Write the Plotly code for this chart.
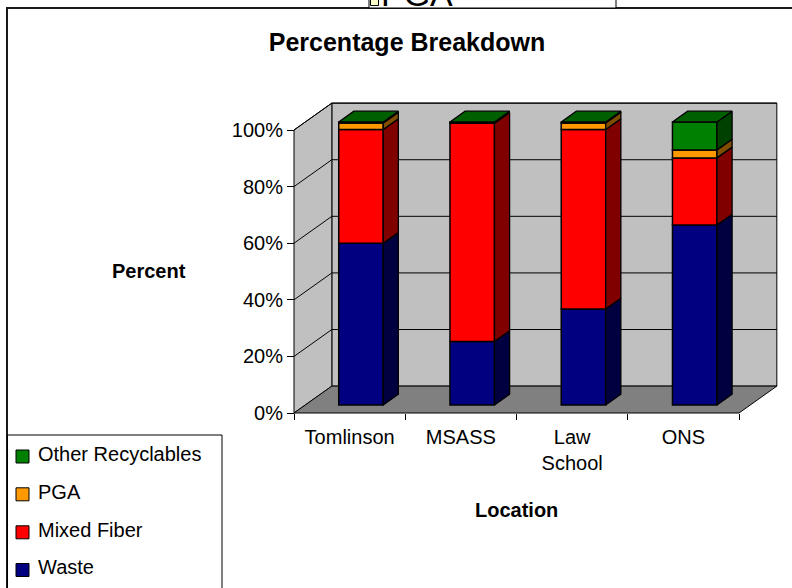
import plotly.graph_objects as go

# ---------------- data ----------------
categories = ["Tomlinson", "MSASS", "Law School", "ONS"]
series_names = ["Waste", "Mixed Fiber", "PGA", "Other Recyclables"]
waste = [57.1, 22.4, 33.9, 63.6]
mixed_fiber = [40.2, 77.1, 63.4, 23.7]
pga = [2.3, 0.3, 2.3, 2.8]
other_recyclables = [0.4, 0.2, 0.4, 9.9]
y_tick_values = [0, 20, 40, 60, 80, 100]
y_tick_labels = ["0%", "20%", "40%", "60%", "80%", "100%"]
chart_title = "Percentage Breakdown"
x_axis_title = "Location"
y_axis_title = "Percent"

series_values = [waste, mixed_fiber, pga, other_recyclables]

# ---------------- style ----------------
FONT = "Liberation Sans, Arial, sans-serif"
FRONT = ["#000080", "#FF0000", "#FF9900", "#008000"]
SIDE = ["#000040", "#800000", "#804D00", "#004000"]
TOP = ["#000060", "#C00000", "#C07300", "#006000"]
WALL = "#C0C0C0"
FLOOR = "#808080"

W, H = 792, 588
M_L, M_R, M_T, M_B = 290, 12, 100, 172
PLOT_W = W - M_L - M_R
PLOT_H = H - M_T - M_B
ORIGIN_PX = (294, 413)       # pixel of (first category edge, 0%)
X_UNIT_PX = 111.25           # pixels per category
Y_UNIT_PX = 2.83             # pixels per percent
DEPTH_X = 0.34               # floor depth, in category units
DEPTH_Y = 9.5                # floor depth, in percent units
BAR_W = 0.4
BAR_FRONT = 0.3              # bar front plane as a fraction of floor depth
BAR_BACK = 0.7

x_lo = -(ORIGIN_PX[0] - M_L) / X_UNIT_PX
x_range = [x_lo, x_lo + PLOT_W / X_UNIT_PX]
y_lo = -((H - M_B) - ORIGIN_PX[1]) / Y_UNIT_PX
y_range = [y_lo, y_lo + PLOT_H / Y_UNIT_PX]


def paper_x(px):
    return (px - M_L) / PLOT_W


def paper_y(py):
    return (H - M_B - py) / PLOT_H


def path(points, close=True):
    s = "M " + " L ".join(f"{x:.4f},{y:.4f}" for x, y in points)
    return s + (" Z" if close else "")


n = len(categories)
top_val = y_tick_values[-1]
shapes = []

# walls and floor
shapes.append(dict(type="path", xref="x", yref="y", layer="below",
                   path=path([(DEPTH_X, DEPTH_Y), (n + DEPTH_X, DEPTH_Y),
                              (n + DEPTH_X, top_val + DEPTH_Y), (DEPTH_X, top_val + DEPTH_Y)]),
                   fillcolor=WALL, line=dict(color="#000000", width=1)))
shapes.append(dict(type="path", xref="x", yref="y", layer="below",
                   path=path([(0, 0), (DEPTH_X, DEPTH_Y), (DEPTH_X, top_val + DEPTH_Y), (0, top_val)]),
                   fillcolor=WALL, line=dict(color="#000000", width=1)))
shapes.append(dict(type="path", xref="x", yref="y", layer="below",
                   path=path([(0, 0), (n, 0), (n + DEPTH_X, DEPTH_Y), (DEPTH_X, DEPTH_Y)]),
                   fillcolor=FLOOR, line=dict(color="#000000", width=1)))
# gridlines on the side wall and back wall
for v in y_tick_values[1:]:
    shapes.append(dict(type="path", xref="x", yref="y", layer="below",
                       path=path([(0, v), (DEPTH_X, v + DEPTH_Y), (n + DEPTH_X, v + DEPTH_Y)], close=False),
                       line=dict(color="#000000", width=1)))

fig = go.Figure()

# front faces of the stacked columns
fx0 = BAR_FRONT * DEPTH_X
fy0 = BAR_FRONT * DEPTH_Y
ddx = (BAR_BACK - BAR_FRONT) * DEPTH_X
ddy = (BAR_BACK - BAR_FRONT) * DEPTH_Y
centers = [i + 0.5 + fx0 for i in range(n)]

cum = [0.0] * n
bases_all = []
for j, vals in enumerate(series_values):
    bases = [c + fy0 for c in cum]
    bases_all.append(bases)
    fig.add_trace(go.Bar(
        x=centers, y=vals, base=bases, width=BAR_W, name=series_names[j],
        marker=dict(color=FRONT[j], line=dict(color="#000000", width=1.5)),
        showlegend=False, hoverinfo="skip"))
    cum = [c + v for c, v in zip(cum, vals)]

# side faces
for j, vals in enumerate(series_values):
    xs, ys = [], []
    for i in range(n):
        if vals[i] <= 0:
            continue
        xr = centers[i] + BAR_W / 2
        b = bases_all[j][i]
        t = b + vals[i]
        xs += [xr, xr + ddx, xr + ddx, xr, xr, None]
        ys += [b, b + ddy, t + ddy, t, b, None]
    fig.add_trace(go.Scatter(x=xs, y=ys, mode="lines", fill="toself",
                             fillcolor=SIDE[j], line=dict(color="#000000", width=1.3),
                             showlegend=False, hoverinfo="skip"))

# top faces (colour of the highest non-empty series)
for i in range(n):
    j_top = max(j for j in range(len(series_values)) if series_values[j][i] > 0)
    t = cum[i] + fy0
    xl = centers[i] - BAR_W / 2
    xr = centers[i] + BAR_W / 2
    fig.add_trace(go.Scatter(x=[xl, xr, xr + ddx, xl + ddx, xl],
                             y=[t, t, t + ddy, t + ddy, t],
                             mode="lines", fill="toself", fillcolor=TOP[j_top],
                             line=dict(color="#000000", width=1.3),
                             showlegend=False, hoverinfo="skip"))

# chart-area frame
shapes.append(dict(type="rect", xref="paper", yref="paper", layer="above",
                   x0=paper_x(7), x1=paper_x(W + 20), y0=paper_y(H + 20), y1=paper_y(8),
                   line=dict(color="#1a1a1a", width=2), fillcolor="rgba(0,0,0,0)"))

annotations = []

# legend box in the lower-left corner
shapes.append(dict(type="rect", xref="paper", yref="paper", layer="above",
                   x0=paper_x(7.5), x1=paper_x(222), y0=paper_y(H + 20), y1=paper_y(435),
                   line=dict(color="#000000", width=1), fillcolor="#FFFFFF"))
legend_rows = [456.5, 494.3, 532.3, 570.0]
for row, j in zip(legend_rows, reversed(range(len(series_names)))):
    shapes.append(dict(type="rect", xref="paper", yref="paper", layer="above",
                       x0=paper_x(16), x1=paper_x(29), y0=paper_y(row + 6.5), y1=paper_y(row - 6.5),
                       line=dict(color="#000000", width=1), fillcolor=FRONT[j]))
    annotations.append(dict(xref="paper", yref="paper", x=paper_x(36), y=paper_y(row - 2.7),
                            xanchor="left", yanchor="middle", showarrow=False,
                            text=series_names[j], font=dict(family=FONT, size=20, color="#000000")))

# neighbouring legend peeking in at the top edge
shapes.append(dict(type="rect", xref="paper", yref="paper", layer="above",
                   x0=paper_x(369), x1=paper_x(616), y0=paper_y(8), y1=paper_y(-60),
                   line=dict(color="#000000", width=1), fillcolor="#FFFFFF"))
shapes.append(dict(type="rect", xref="paper", yref="paper", layer="above",
                   x0=paper_x(370.5), x1=paper_x(378.5), y0=paper_y(5.5), y1=paper_y(-4),
                   line=dict(color="#000000", width=1), fillcolor="#FFFFCC"))
annotations.append(dict(xref="paper", yref="paper", x=paper_x(379), y=paper_y(-6),
                        xanchor="left", yanchor="middle", showarrow=False,
                        text=series_names[2], font=dict(family=FONT, size=34, color="#000000")))

# axis titles
annotations.append(dict(xref="paper", yref="paper", x=paper_x(149), y=paper_y(271),
                        xanchor="center", yanchor="middle", showarrow=False,
                        text=f"<b>{y_axis_title}</b>", font=dict(family=FONT, size=20, color="#000000")))
annotations.append(dict(xref="paper", yref="paper", x=paper_x(516), y=paper_y(510),
                        xanchor="center", yanchor="middle", showarrow=False,
                        text=f"<b>{x_axis_title}</b>", font=dict(family=FONT, size=20, color="#000000")))

fig.update_layout(
    width=W, height=H, autosize=False,
    margin=dict(l=M_L, r=M_R, t=M_T, b=M_B, pad=0, autoexpand=False),
    paper_bgcolor="#FFFFFF", plot_bgcolor="rgba(0,0,0,0)",
    barmode="overlay", showlegend=False,
    title=dict(text=f"<b>{chart_title}</b>", x=407 / W, y=1 - 42 / H,
               xref="container", yref="container", xanchor="center", yanchor="middle",
               font=dict(family=FONT, size=25, color="#000000")),
    xaxis=dict(range=x_range, anchor="free",
               position=(0 - y_range[0]) / (y_range[1] - y_range[0]),
               tickmode="array", tickvals=[i + 0.5 for i in range(n)],
               ticktext=[c.replace(" ", "<br>") for c in categories],
               ticks="", ticklabelstandoff=10, showgrid=False, zeroline=False, showline=False,
               tickfont=dict(family=FONT, size=20, color="#000000"),
               minor=dict(tickmode="array", tickvals=list(range(n + 1)), ticks="outside",
                          ticklen=6, tickwidth=1, tickcolor="#000000", showgrid=False)),
    yaxis=dict(range=y_range, anchor="free",
               position=(0 - x_range[0]) / (x_range[1] - x_range[0]),
               tickmode="array", tickvals=y_tick_values, ticktext=y_tick_labels,
               ticks="outside", ticklen=7, tickwidth=1, tickcolor="#000000",
               showgrid=False, zeroline=False, showline=False,
               tickfont=dict(family=FONT, size=20, color="#000000")),
    shapes=shapes, annotations=annotations,
)

fig.write_html("out.html")
